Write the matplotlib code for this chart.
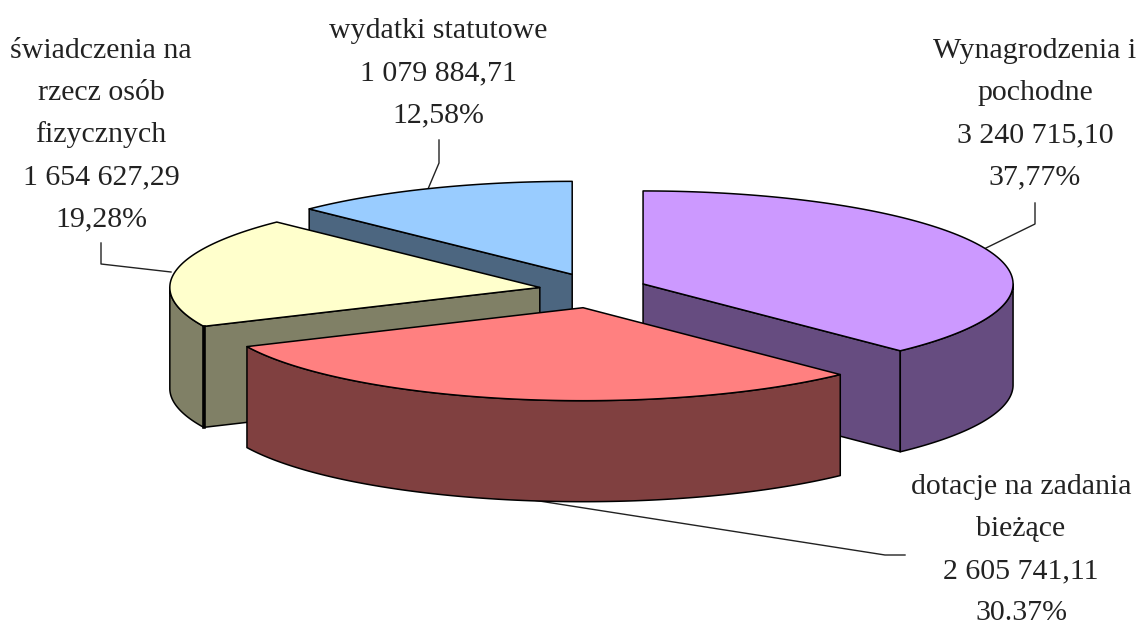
import numpy as np
import matplotlib
matplotlib.use('Agg')
import matplotlib.pyplot as plt

# slices clockwise from 12 o'clock
names = [['Wynagrodzenia i', 'pochodne'],
         ['dotacje na zadania', 'bieżące'],
         ['świadczenia na', 'rzecz osób', 'fizycznych'],
         ['wydatki statutowe']]
values = [3240715.10, 2605741.11, 1654627.29, 1079884.71]
value_labels = ['3 240 715,10', '2 605 741,11', '1 654 627,29', '1 079 884,71']
pct_labels = ['37,77%', '30.37%', '19,28%', '12,58%']

top_colors = ['#CC99FF', '#FF8080', '#FFFFCC', '#99CCFF']
side_colors = ['#664C80', '#804040', '#808066', '#4C6680']

# pie geometry, in pixels
cx, cy = 593, 290.5
rx, ry = 370, 93
ex, ey = 54, 17.5
depth = 101

fig = plt.figure(figsize=(11.4, 6.27), dpi=100)
ax = fig.add_axes([0, 0, 1, 1])
ax.set_xlim(0, 1140)
ax.set_ylim(627, 0)
ax.axis('off')

edges = np.cumsum([0] + values) / sum(values) * 360


def rim(x0, y0, a, b, dy=0):
    t = np.radians(np.linspace(a, b, 120))
    return x0 + rx * np.sin(t), y0 - ry * np.cos(t) + dy


def face(xs, ys, color):
    ax.fill(xs, ys, facecolor=color, edgecolor='black', lw=1.1, joinstyle='round')


# leader lines go under the pie
leaders = [([1035, 1035, 986], [203, 224, 248]),
           ([905, 885, 520], [555, 555, 498]),
           ([101, 101, 171], [243, 264, 272]),
           ([439, 439, 428], [140, 163, 189])]
for lx, ly in leaders:
    ax.plot(lx, ly, color='#222222', lw=1.0, zorder=0)

# blue, purple, yellow, red: back to front
for i in [3, 0, 2, 1]:
    a, b = edges[i], edges[i + 1]
    mid = np.radians((a + b) / 2)
    x0 = cx + ex * np.sin(mid)
    y0 = cy - ey * np.cos(mid)
    side = side_colors[i]

    # cut faces that look towards the viewer
    for ang, show in [(a, np.sin(np.radians(a)) < -1e-6), (b, np.sin(np.radians(b)) > 1e-6)]:
        if show:
            x1 = x0 + rx * np.sin(np.radians(ang))
            y1 = y0 - ry * np.cos(np.radians(ang))
            face([x0, x1, x1, x0], [y0, y1, y1 + depth, y0 + depth], side)

    # front part of the outer wall
    lo, hi = max(a, 90), min(b, 270)
    if lo < hi:
        xa, ya = rim(x0, y0, lo, hi)
        xb, yb = rim(x0, y0, lo, hi, depth)
        face(np.r_[xa, xb[::-1]], np.r_[ya, yb[::-1]], side)

    xs, ys = rim(x0, y0, a, b)
    face(np.r_[x0, xs], np.r_[y0, ys], top_colors[i])

    if i == 2:
        # heavy line on the yellow corner
        xk = x0 + rx * np.sin(np.radians(a))
        yk = y0 - ry * np.cos(np.radians(a))
        ax.plot([xk, xk], [yk + 1, yk + depth], color='black', lw=2.6)

# labels
label_x = [1035, 1021, 101, 438]
label_y = [58, 494, 58, 38]
line_gap = 42
for i in range(4):
    lines = names[i] + [value_labels[i], pct_labels[i]]
    for j, s in enumerate(lines):
        ax.text(label_x[i], label_y[i] + j * line_gap, s, ha='center', va='baseline',
                family='Liberation Serif', fontsize=21.5, color='#222222')

fig.savefig('out.png', dpi=100)
